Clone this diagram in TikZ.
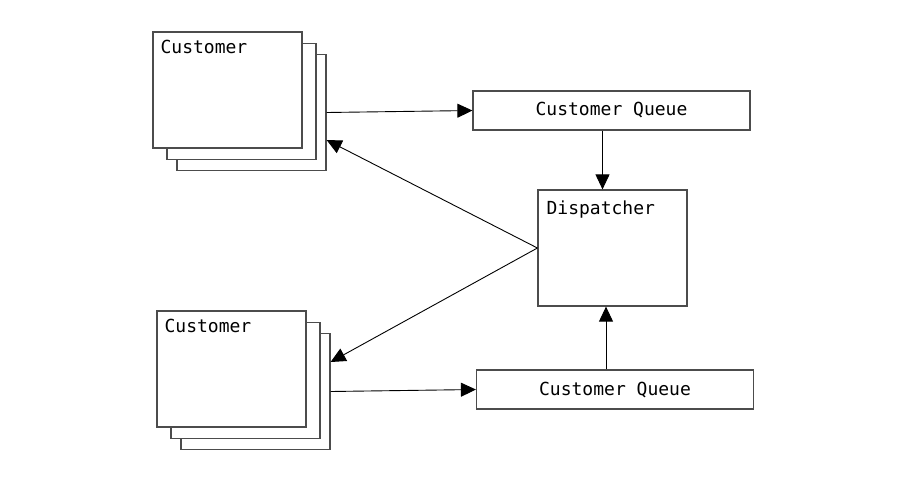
\documentclass[tikz,border=0pt]{standalone}
\usepackage{fontspec}
\setmonofont{DejaVu Sans Mono}
\usetikzlibrary{calc,arrows.meta,positioning}

\begin{document}
\begin{tikzpicture}[x=1pt, y=1pt, >={Triangle[length=15pt,width=14pt]},
          box/.style={rectangle, draw=black!70, line width=1.2pt, fill=white,
            minimum width=149pt, minimum height=116pt, inner sep=0pt},
          queue/.style={rectangle, draw=black!70, line width=1.2pt, fill=white,
            minimum width=277pt, minimum height=39pt,
            font=\ttfamily\fontsize{18}{20}\selectfont},
          title/.style={anchor=base west, inner sep=0pt,
            font=\ttfamily\fontsize{18}{20}\selectfont},
          link/.style={->, line width=0.9pt}]

          \useasboundingbox (0,0) rectangle (917,-477);

          % upper customers
          \node[box] (cust1c) at (251.5,-112.5) {};
          \node[box] (cust1b) at ([shift={(-10,11)}]cust1c.center) {};
          \node[box] (cust1) at ([shift={(-24,22.5)}]cust1c.center) {};
          \node[title] (cust1t) at ([shift={(8,-22)}]cust1.north west) {Customer};

          % lower customers
          \node[box] (cust2c) at (255.5,-391.5) {};
          \node[box] (cust2b) at ([shift={(-10,11)}]cust2c.center) {};
          \node[box] (cust2) at ([shift={(-24,22.5)}]cust2c.center) {};
          \node[title] (cust2t) at ([shift={(8,-22)}]cust2.north west) {Customer};

          \node[queue] (queue1) at (611.5,-110.5) {Customer Queue};
          \node[queue] (queue2) at (615,-389.5) {Customer Queue};

          \node[box] (disp) at (612.5,-248) {};
          \node[title] (dispt) at ([shift={(9,-25)}]disp.north west) {Dispatcher};

          \draw[link] (cust1c.east) -- (queue1.west);
          \draw[link] ([xshift=-9pt]queue1.south) -- ([xshift=-10pt]disp.north);
          \draw[link] (disp.west) -- ([yshift=-27.5pt]cust1c.east);
          \draw[link] (disp.west) -- ([yshift=29.5pt]cust2c.east);
          \draw[link] (cust2c.east) -- (queue2.west);
          \draw[link] ([xshift=-9pt]queue2.north) -- ([xshift=-6.5pt]disp.south);
        \end{tikzpicture}
\end{document}
